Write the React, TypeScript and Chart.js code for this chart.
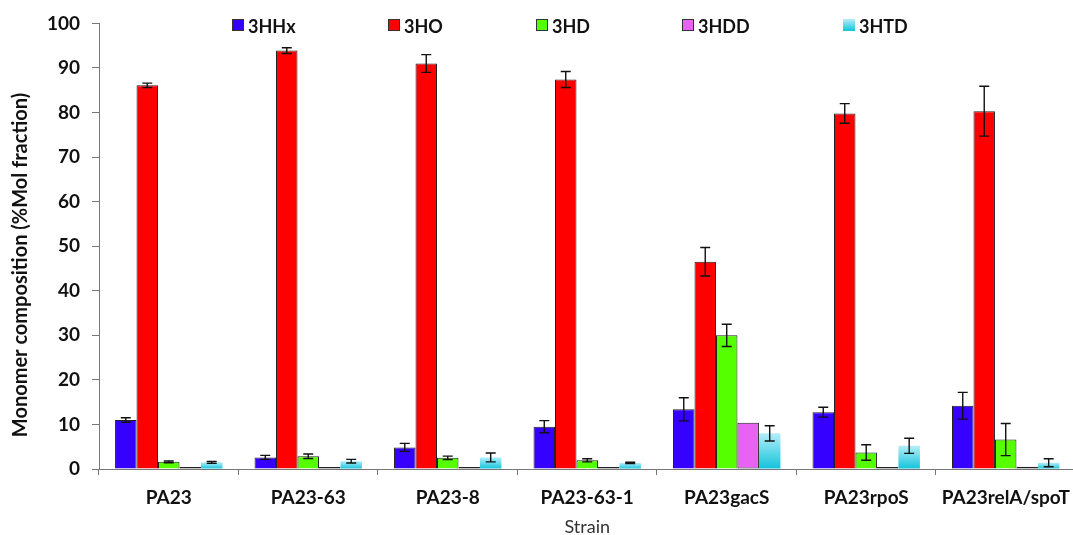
import React, { useEffect, useRef } from "react";
import { Chart, registerables } from "chart.js";

Chart.register(...registerables);

const CATEGORIES = ["PA23", "PA23-63", "PA23-8", "PA23-63-1", "PA23gacS", "PA23rpoS", "PA23relA/spoT"];
const SERIES_NAMES = ["3HHx", "3HO", "3HD", "3HDD", "3HTD"];

const HHX = [11.0, 2.6, 4.85, 9.5, 13.4, 12.75, 14.2];
const HO = [86.1, 93.9, 91.0, 87.4, 46.5, 79.8, 80.3];
const HD = [1.6, 2.85, 2.5, 1.95, 30.0, 3.7, 6.6];
const HDD = [0.2, 0.2, 0.3, 0.2, 10.4, 0.2, 0.5];
const HTD = [1.5, 1.75, 2.6, 1.35, 8.0, 5.2, 1.4];

const HHX_ERR = [0.5, 0.45, 0.9, 1.35, 2.6, 1.1, 3.0];
const HO_ERR = [0.5, 0.65, 2.0, 1.8, 3.2, 2.2, 5.6];
const HD_ERR = [0.2, 0.5, 0.4, 0.35, 2.5, 1.75, 3.6];
const HDD_ERR = [0, 0, 0, 0, 0, 0, 0];
const HTD_ERR = [0.2, 0.4, 1.0, 0.15, 1.7, 1.7, 0.9];

const Y_TICK_STEP = 10;
const Y_MIN = 0;
const Y_MAX = 100;

const COLORS = ["#3500ff", "#ff0000", "#55ff00", "#e963f2", "#1ec8e2"];
const FONT = 'Lato, "Open Sans", sans-serif';
const LEGEND_X = [232, 388, 536, 682, 843];

function cyanGradient(ctx: CanvasRenderingContext2D, top: number, bottom: number) {
  if (!isFinite(top) || !isFinite(bottom) || top === bottom) return COLORS[4];
  const g = ctx.createLinearGradient(0, top, 0, bottom);
  g.addColorStop(0, "#b4eef9");
  g.addColorStop(1, "#12c3dc");
  return g;
}

export default function App() {
  const ref = useRef<HTMLCanvasElement | null>(null);

  useEffect(() => {
    document.body.style.margin = "0";
    document.body.style.overflow = "hidden";
    const canvas = ref.current!;
    const values = [HHX, HO, HD, HDD, HTD];
    const errors = [HHX_ERR, HO_ERR, HD_ERR, HDD_ERR, HTD_ERR];

    const errorBars = {
      id: "errorBars",
      afterDatasetsDraw(chart: any) {
        const { ctx } = chart;
        const y = chart.scales.y;
        ctx.save();
        ctx.strokeStyle = "#111";
        ctx.lineWidth = 1.4;
        values.forEach((vals, i) => {
          const meta = chart.getDatasetMeta(i);
          meta.data.forEach((el: any, j: number) => {
            const e = errors[i][j];
            if (!e) return;
            const x = el.x;
            const t = y.getPixelForValue(vals[j] + e);
            const b = y.getPixelForValue(Math.max(0, vals[j] - e));
            ctx.beginPath();
            ctx.moveTo(x, t);
            ctx.lineTo(x, b);
            ctx.moveTo(x - 5, t);
            ctx.lineTo(x + 5, t);
            ctx.moveTo(x - 5, b);
            ctx.lineTo(x + 5, b);
            ctx.stroke();
          });
        });
        ctx.restore();
      },
    };

    const customLegend = {
      id: "customLegend",
      afterDraw(chart: any) {
        const { ctx } = chart;
        ctx.save();
        ctx.font = `bold 18px ${FONT}`;
        ctx.textBaseline = "middle";
        ctx.textAlign = "left";
        SERIES_NAMES.forEach((name, i) => {
          const x = LEGEND_X[i];
          const top = 19;
          if (i === 4) {
            ctx.fillStyle = cyanGradient(ctx, top, top + 12);
            ctx.fillRect(x, top, 12, 12);
          } else {
            ctx.fillStyle = COLORS[i];
            ctx.fillRect(x, top, 12, 12);
            ctx.strokeStyle = "#333";
            ctx.lineWidth = 1;
            ctx.strokeRect(x + 0.5, top + 0.5, 11, 11);
          }
          ctx.fillStyle = "#111";
          ctx.fillText(name, x + 16, top + 8);
        });
        ctx.restore();
      },
    };

    const yTitle = {
      id: "yTitle",
      afterDraw(chart: any) {
        const { ctx } = chart;
        ctx.save();
        ctx.translate(21, 265);
        ctx.rotate(-Math.PI / 2);
        ctx.font = `bold 20px ${FONT}`;
        ctx.fillStyle = "#111";
        ctx.textAlign = "center";
        ctx.textBaseline = "middle";
        ctx.fillText("Monomer composition (%Mol fraction)", 0, 0);
        ctx.restore();
      },
    };

    const datasets = SERIES_NAMES.map((name, i) => ({
      label: name,
      data: values[i],
      backgroundColor:
        i === 4
          ? (c: any) => {
              const chart = c.chart;
              const y = chart.scales?.y;
              if (!y || c.type !== "data" || typeof c.raw !== "number") return COLORS[4];
              return cyanGradient(chart.ctx, y.getPixelForValue(c.raw), y.getPixelForValue(0));
            }
          : COLORS[i],
      borderColor: i === 4 ? "rgba(0,0,0,0)" : "#222",
      borderWidth: i === 4 ? 0 : 1,
      borderSkipped: i === 3 ? false : "start",
      minBarLength: i === 3 ? 2 : 0,
      barPercentage: 1.0,
      categoryPercentage: 0.77,
    }));

    const chart = new Chart(canvas, {
      type: "bar",
      data: { labels: CATEGORIES, datasets },
      options: {
        responsive: false,
        animation: false,
        layout: { padding: { top: 22, right: 3, left: 0, bottom: 0 } },
        plugins: {
          legend: { display: false },
          tooltip: { enabled: false },
        },
        scales: {
          x: {
            grid: {
              offset: true,
              drawOnChartArea: false,
              drawTicks: true,
              tickLength: 6,
              color: "#777",
            },
            border: { color: "#777", width: 1 },
            ticks: {
              padding: 11,
              color: "#111",
              font: { family: FONT, size: 19, weight: "bold" },
              maxRotation: 0,
              autoSkip: false,
            },
            title: {
              display: true,
              text: "Strain",
              color: "#333",
              font: { family: FONT, size: 18 },
              padding: { top: 0, bottom: 0 },
            },
            afterFit(scale: any) {
              scale.height = 69;
            },
          },
          y: {
            min: Y_MIN,
            max: Y_MAX,
            grid: {
              drawOnChartArea: false,
              drawTicks: true,
              tickLength: 7,
              color: "#777",
            },
            border: { color: "#777", width: 1 },
            ticks: {
              stepSize: Y_TICK_STEP,
              padding: 12,
              color: "#111",
              font: { family: FONT, size: 19, weight: "bold" },
            },
            afterFit(scale: any) {
              scale.width = 99;
            },
          },
        },
      },
      plugins: [errorBars, customLegend, yTitle],
    });

    return () => chart.destroy();
  }, []);

  return (
    <div style={{ position: "fixed", left: 0, top: 0, width: 1073, height: 535, overflow: "hidden", background: "#fff" }}>
      <canvas ref={ref} width={1081} height={538} style={{ display: "block" }} />
    </div>
  );
}
